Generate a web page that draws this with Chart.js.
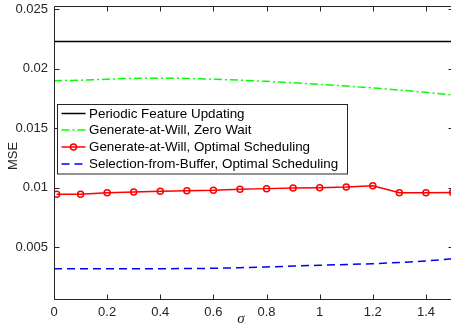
<!DOCTYPE html>
<html>
<head>
<meta charset="utf-8">
<script src="https://cdn.jsdelivr.net/npm/chart.js@4/dist/chart.umd.min.js"></script>
<style>
html,body{margin:0;padding:0;overflow:hidden;background:#fff;}
#wrap{position:relative;width:458px;height:331px;}
</style>
</head>
<body>
<div id="wrap"><canvas id="c"></canvas></div>
<script>
// ---- data ----
const sigmaGrid = [0,0.1,0.2,0.3,0.4,0.5,0.6,0.7,0.8,0.9,1.0,1.1,1.2,1.3,1.4,1.5];
const sigmaRed  = [0.01,0.1,0.2,0.3,0.4,0.5,0.6,0.7,0.8,0.9,1.0,1.1,1.2,1.3,1.4,1.5];
const periodicMSE = [0.0223,0.0223,0.0223,0.0223,0.0223,0.0223,0.0223,0.0223,0.0223,0.0223,0.0223,0.0223,0.0223,0.0223,0.0223,0.0223];
const zeroWaitMSE = [0.0190,0.01905,0.01913,0.0192,0.01922,0.0192,0.01913,0.01905,0.01895,0.01883,0.0187,0.01855,0.0184,0.01822,0.01803,0.0178];
const gawOptMSE   = [0.00944,0.00944,0.00958,0.00963,0.00969,0.00975,0.00978,0.00986,0.00992,0.00997,0.0100,0.01005,0.01017,0.00958,0.00958,0.0096];
const sfbOptMSE   = [0.00318,0.00318,0.00318,0.00318,0.00318,0.00319,0.00321,0.00326,0.00333,0.0034,0.00347,0.00353,0.0036,0.0037,0.00383,0.00402];
const seriesNames = ['Periodic Feature Updating','Generate-at-Will, Zero Wait','Generate-at-Will, Optimal Scheduling','Selection-from-Buffer, Optimal Scheduling'];
const xTicks = [0,0.2,0.4,0.6,0.8,1,1.2,1.4];
const yTicks = [0.005,0.01,0.015,0.02,0.025];
const xLabel = 'σ';
const yLabel = 'MSE';

const AX = '#262626';
const FONT = '"Liberation Sans", Arial, Helvetica, sans-serif';
const pts = (xs, ys) => xs.map((x,i)=>({x:x,y:ys[i]}));

const boxPlugin = {
  id:'boxAndTicks',
  afterDatasetsDraw(chart){
    const {ctx, chartArea:a, scales:{x,y}} = chart;
    ctx.save();
    ctx.strokeStyle = AX; ctx.lineWidth = 1;
    ctx.beginPath();
    const L=Math.round(a.left)+0.5, R=Math.round(a.right)+0.5, T=Math.round(a.top)+0.5, B=Math.round(a.bottom)-0.5;
    ctx.rect(L,T,R-L,B-T);
    const tl=5;
    xTicks.forEach(v=>{const px=Math.round(x.getPixelForValue(v))+0.5; ctx.moveTo(px,B); ctx.lineTo(px,B-tl); ctx.moveTo(px,T); ctx.lineTo(px,T+tl);});
    yTicks.forEach(v=>{const py=Math.round(y.getPixelForValue(v))+0.5; ctx.moveTo(L,py); ctx.lineTo(L+tl,py); ctx.moveTo(R,py); ctx.lineTo(R-tl,py);});
    ctx.stroke();

    // legend
    const lx=57.5, ly=104.5, lw=290, lh=69.5;
    ctx.fillStyle='#fff'; ctx.fillRect(lx,ly,lw,lh);
    ctx.strokeStyle=AX; ctx.lineWidth=1; ctx.strokeRect(lx,ly,lw,lh);
    const rows=[113.5,130,147,164];
    ctx.font='13.4px '+FONT; ctx.textBaseline='middle'; ctx.textAlign='left';
    chart.data.datasets.forEach((ds,i)=>{
      const yy=rows[i];
      ctx.save();
      ctx.strokeStyle=ds.borderColor; ctx.lineWidth=ds.borderWidth;
      ctx.setLineDash(ds.borderDash||[]);
      ctx.beginPath(); ctx.moveTo(61.5,yy); ctx.lineTo(85.5,yy); ctx.stroke();
      ctx.setLineDash([]);
      if(ds.pointRadius>0){ctx.beginPath(); ctx.arc(73.5,yy,ds.pointRadius,0,Math.PI*2); ctx.lineWidth=ds.pointBorderWidth; ctx.stroke();}
      ctx.restore();
      ctx.fillStyle='#000';
      ctx.fillText(ds.label,89,yy+0.5);
    });
    // axis titles
    ctx.fillStyle=AX;
    ctx.font='italic 15px "Liberation Serif", "DejaVu Serif", serif';
    ctx.textAlign='center'; ctx.textBaseline='alphabetic';
    ctx.fillText(xLabel,241,323);
    ctx.save();
    ctx.translate(13,156); ctx.rotate(-Math.PI/2);
    ctx.font='13px '+FONT; ctx.textBaseline='middle';
    ctx.fillText(yLabel,0,0);
    ctx.restore();
    ctx.restore();
  }
};

new Chart(document.getElementById('c'),{
  type:'line',
  data:{datasets:[
    {label:seriesNames[0],data:pts(sigmaGrid,periodicMSE),borderColor:'#000000',borderWidth:1.5,pointRadius:0,tension:0},
    {label:seriesNames[1],data:pts(sigmaGrid,zeroWaitMSE),borderColor:'#00ff00',borderWidth:1.5,borderDash:[8,3,2,3],pointRadius:0,tension:0},
    {label:seriesNames[2],data:pts(sigmaRed,gawOptMSE),borderColor:'#ff0000',borderWidth:1.5,pointRadius:3,pointBorderWidth:1.5,pointStyle:'circle',pointBackgroundColor:'rgba(0,0,0,0)',pointBorderColor:'#ff0000',tension:0},
    {label:seriesNames[3],data:pts(sigmaGrid,sfbOptMSE),borderColor:'#0000ff',borderWidth:1.5,borderDash:[8,5],pointRadius:0,tension:0}
  ]},
  options:{
    responsive:true, maintainAspectRatio:false, animation:false,
    devicePixelRatio:1,
    layout:{padding:{top:3.5,right:4,left:0,bottom:0}},
    plugins:{legend:{display:false},tooltip:{enabled:false}},
    scales:{
      x:{type:'linear',min:0,max:1.5,
        grid:{display:false,drawTicks:false},border:{display:false},
        afterBuildTicks:s=>{s.ticks=xTicks.map(v=>({value:v}));},
        afterFit:s=>{s.height=31.3;s.paddingLeft=0;s.paddingRight=0;},
        ticks:{color:AX,font:{family:FONT,size:13},padding:5,maxRotation:0,autoSkip:false,callback:v=>String(v)}
      },
      y:{type:'linear',min:0.00057,max:0.025335,
        grid:{display:false,drawTicks:false},border:{display:false},
        afterBuildTicks:s=>{s.ticks=yTicks.map(v=>({value:v}));},
        afterFit:s=>{s.width=54;s.paddingTop=0;s.paddingBottom=0;},
        ticks:{color:AX,font:{family:FONT,size:13},padding:6,autoSkip:false,callback:v=>String(+v.toFixed(4))}
      }
    }
  },
  plugins:[boxPlugin]
});
</script>
</body>
</html>
